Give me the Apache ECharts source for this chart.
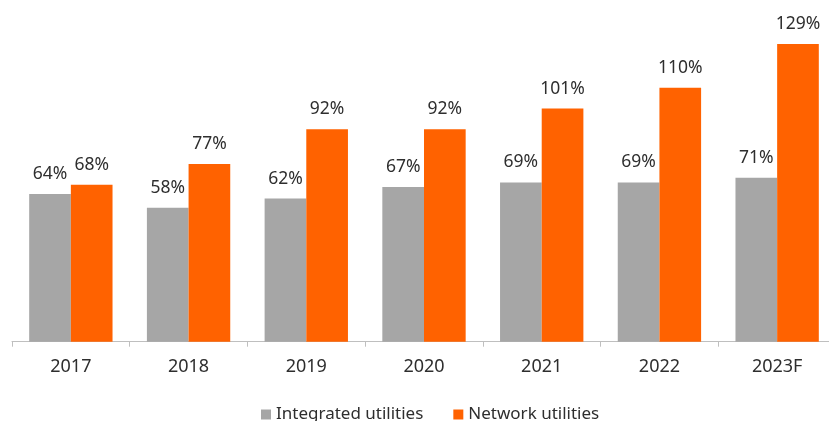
<!DOCTYPE html>
<html>
<head>
<meta charset="utf-8">
<script src="https://cdn.jsdelivr.net/npm/echarts@6/dist/echarts.min.js"></script>
<style>
html,body{margin:0;padding:0;background:#fff;overflow:hidden;}
/* chart canvas runs a few pixels past the right edge of the window */
#chart{width:836px;height:421px;}
</style>
</head>
<body>
<div id="chart"></div>
<script>
// Categories and series values (percent)
const years = ['2017', '2018', '2019', '2020', '2021', '2022', '2023F'];
const integratedUtilities = [64, 58, 62, 67, 69, 69, 71];
const networkUtilities = [68, 77, 92, 92, 101, 110, 129];

const FONT = '"Noto Sans", sans-serif';
const TEXT = '#2e2e2e';

const chart = echarts.init(document.getElementById('chart'), null, { renderer: 'canvas' });

const labelStyle = {
  show: true,
  position: 'top',
  distance: 11,
  formatter: p => p.value + '%',
  fontFamily: FONT,
  fontSize: 17.5,
  color: TEXT
};

chart.setOption({
  animation: false,
  backgroundColor: '#fff',
  grid: { left: 12, right: 0, top: 18.5, height: 323.2, containLabel: false },
  legend: {
    top: 401,
    left: 256,
    itemWidth: 10,
    itemHeight: 10,
    itemGap: 30,
    icon: 'rect',
    textStyle: { fontFamily: FONT, fontSize: 17, color: TEXT },
    data: ['Integrated utilities', 'Network utilities']
  },
  xAxis: {
    type: 'category',
    data: years,
    axisLine: { lineStyle: { color: '#bfbfbf', width: 1 } },
    axisTick: { show: true, length: 5, lineStyle: { color: '#bfbfbf' } },
    axisLabel: { fontFamily: FONT, fontSize: 18, color: TEXT, margin: 16 }
  },
  yAxis: {
    type: 'value',
    min: 0,
    max: 140,
    show: false,
    splitLine: { show: false }
  },
  series: [
    {
      name: 'Integrated utilities',
      type: 'bar',
      data: integratedUtilities,
      barWidth: '35.4%',
      barGap: '0%',
      itemStyle: { color: '#a6a6a6' },
      label: labelStyle
    },
    {
      name: 'Network utilities',
      type: 'bar',
      data: networkUtilities,
      barWidth: '35.4%',
      barGap: '0%',
      itemStyle: { color: '#ff6200' },
      label: labelStyle
    }
  ]
});
</script>
</body>
</html>
